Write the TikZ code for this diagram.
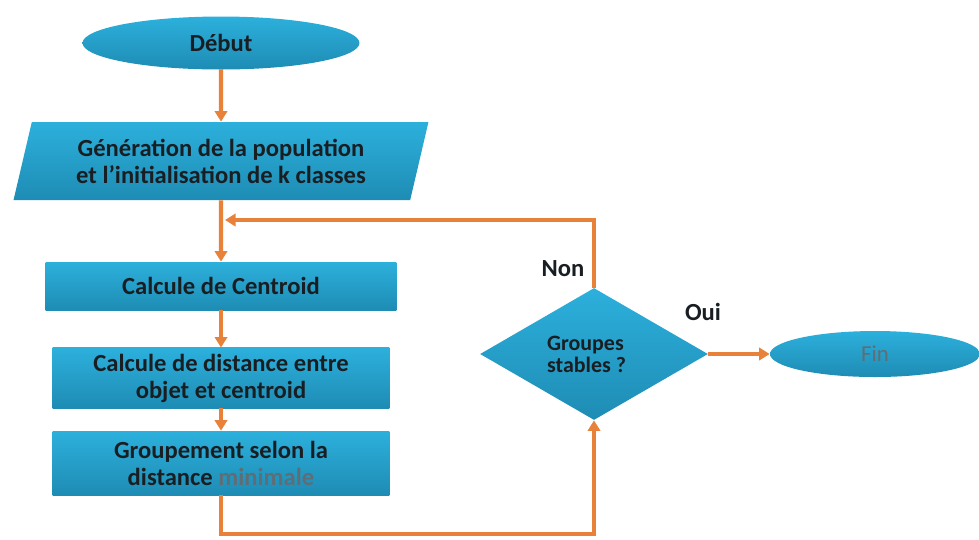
\documentclass[tikz,border=0pt]{standalone}
\usepackage{fontspec}
\setmainfont{Carlito}
\usetikzlibrary{arrows.meta,shapes.geometric}

\definecolor{boxtop}{RGB}{44,176,220}
\definecolor{boxbot}{RGB}{30,140,180}
\definecolor{flowc}{RGB}{232,130,58}
\definecolor{txtc}{RGB}{25,30,35}
\definecolor{softc}{RGB}{95,110,118}

\tikzset{
  box/.style={rectangle,top color=boxtop,bottom color=boxbot,draw=none,
    text=txtc,font=\fontsize{14}{15.4}\selectfont\bfseries,align=center},
  flow/.style={line width=2.4pt,draw=flowc,-{Triangle[length=6pt,width=7pt]}},
  lbl/.style={text=txtc,font=\fontsize{14}{15.4}\selectfont\bfseries}
}

\begin{document}
\begin{tikzpicture}[x=0.02cm,y=-0.02cm]
\useasboundingbox (0,0) rectangle (979,539);
\node (debut)    at (221,43)  [box,ellipse,minimum width=5.54cm,minimum height=1.06cm] {Début};
\node (gen)      at (221,161) [box,trapezium,trapezium left angle=72,trapezium right angle=108,
                               trapezium stretches body,minimum width=8.3cm,minimum height=1.56cm]
                              {Génération de la population\\et l'initialisation de k classes};
\node (centroid) at (221,286) [box,minimum width=7.02cm,minimum height=0.96cm] {Calcule de Centroid};
\node (dist)     at (221,378) [box,minimum width=6.74cm,minimum height=1.16cm] {Calcule de distance entre\\objet et centroid};
\node (group)    at (221,463) [box,minimum width=6.74cm,minimum height=1.28cm] {Groupement selon la\\distance \textcolor{softc}{minimale}};
\node (test)     at (594,354) [box,diamond,inner sep=0pt,minimum width=4.56cm,minimum height=2.64cm,align=left,
                               font=\fontsize{12.5}{12.5}\selectfont\bfseries] {Groupes\\stables ?\hspace*{0.3cm}};
\node (fin)      at (875,354) [box,ellipse,minimum width=4.2cm,minimum height=0.92cm,text=softc,font=\fontsize{13}{15}\selectfont] {Fin};
\node (non)      at (563,269) [lbl] {Non};
\node (oui)      at (703,312) [lbl] {Oui};
\coordinate (merge) at (225,220);
\coordinate (loopB) at (0,534);
\draw [flow] (debut) -- (gen);
\draw [flow] (gen) -- (centroid);
\draw [flow] (centroid) -- (dist);
\draw [flow] (dist) -- (group);
\draw [flow] (group.south) -- (group.south |- loopB) -| (test.south);
\draw [flow] (test.north) |- (merge);
\draw [flow] (test.east) -- (fin.west);
\end{tikzpicture}
\end{document}
